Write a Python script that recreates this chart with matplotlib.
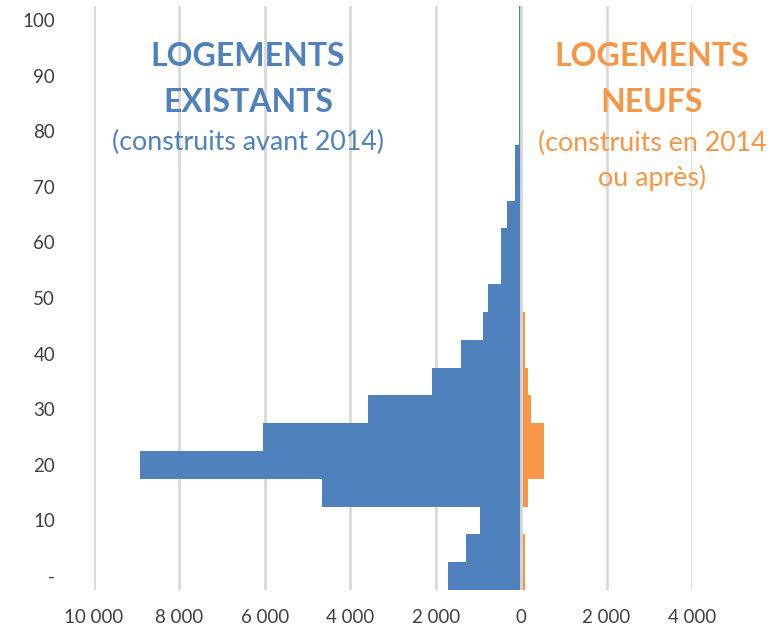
import matplotlib.pyplot as plt
from matplotlib.ticker import FuncFormatter

plt.rcParams["font.family"] = ["Lato", "DejaVu Sans"]

# age bins (5-year categories), labels shown every other bin
categories = list(range(0, 101, 5))
existants = [1710, 1280, 960, 4670, 8930, 6050, 3590, 2090, 1400, 900,
             770, 470, 470, 330, 140, 140, 60, 60, 50, 50, 50]
neufs = [90, 90, 10, 150, 530, 530, 220, 150, 100, 100,
         20, 20, 20, 20, 20, 20, 20, 20, 20, 0, 0]

blue = "#4F81BD"
orange = "#F79646"
grid = "#D9D9D9"

fig = plt.figure(figsize=(7.74, 6.32), dpi=100)
ax = fig.add_axes([94 / 774, 1 - 590 / 632, (692 - 94) / 774, (590 - 6) / 632])

pos = range(len(categories))
ax.barh(pos, [-v for v in existants], height=1.0, color=blue, zorder=2)
ax.barh(pos, neufs, height=1.0, color=orange, zorder=2)
ax.axvline(0, color=grid, lw=2, zorder=3)

ax.set_xlim(-10000, 4000)
ax.set_ylim(-0.5, len(categories) - 0.5)
ax.set_xticks(range(-10000, 4001, 2000))
ax.xaxis.set_major_formatter(FuncFormatter(lambda v, p: "0" if v == 0 else f"{abs(int(v)):,}".replace(",", " ")))
ax.set_yticks(list(pos)[::2])
ax.set_yticklabels(["-" if c == 0 else str(c) for c in categories[::2]])
ax.tick_params(length=0, labelsize=13.5, colors="#404040")
ax.tick_params(axis="x", pad=14)
ax.tick_params(axis="y", pad=28)

ax.grid(axis="x", color=grid, lw=2, zorder=0)
ax.set_axisbelow(True)
for s in ax.spines.values():
    s.set_visible(False)

# annotations (y given in pixels from top)
def label(x, y, s, color, size, bold=False):
    fig.text(x / 774, 1 - y / 632, s, color=color, fontsize=size,
             fontweight="bold" if bold else "normal", ha="center", va="center")

label(248, 56, "LOGEMENTS", blue, 23, True)
label(248, 102, "EXISTANTS", blue, 23, True)
label(248, 142, "(construits avant 2014)", blue, 19.3)
label(652, 56, "LOGEMENTS", orange, 23, True)
label(652, 102, "NEUFS", orange, 23, True)
label(652, 143, "(construits en 2014", orange, 19.3)
label(652, 178, "ou après)", orange, 19.3)

fig.savefig("out.png", dpi=100)
